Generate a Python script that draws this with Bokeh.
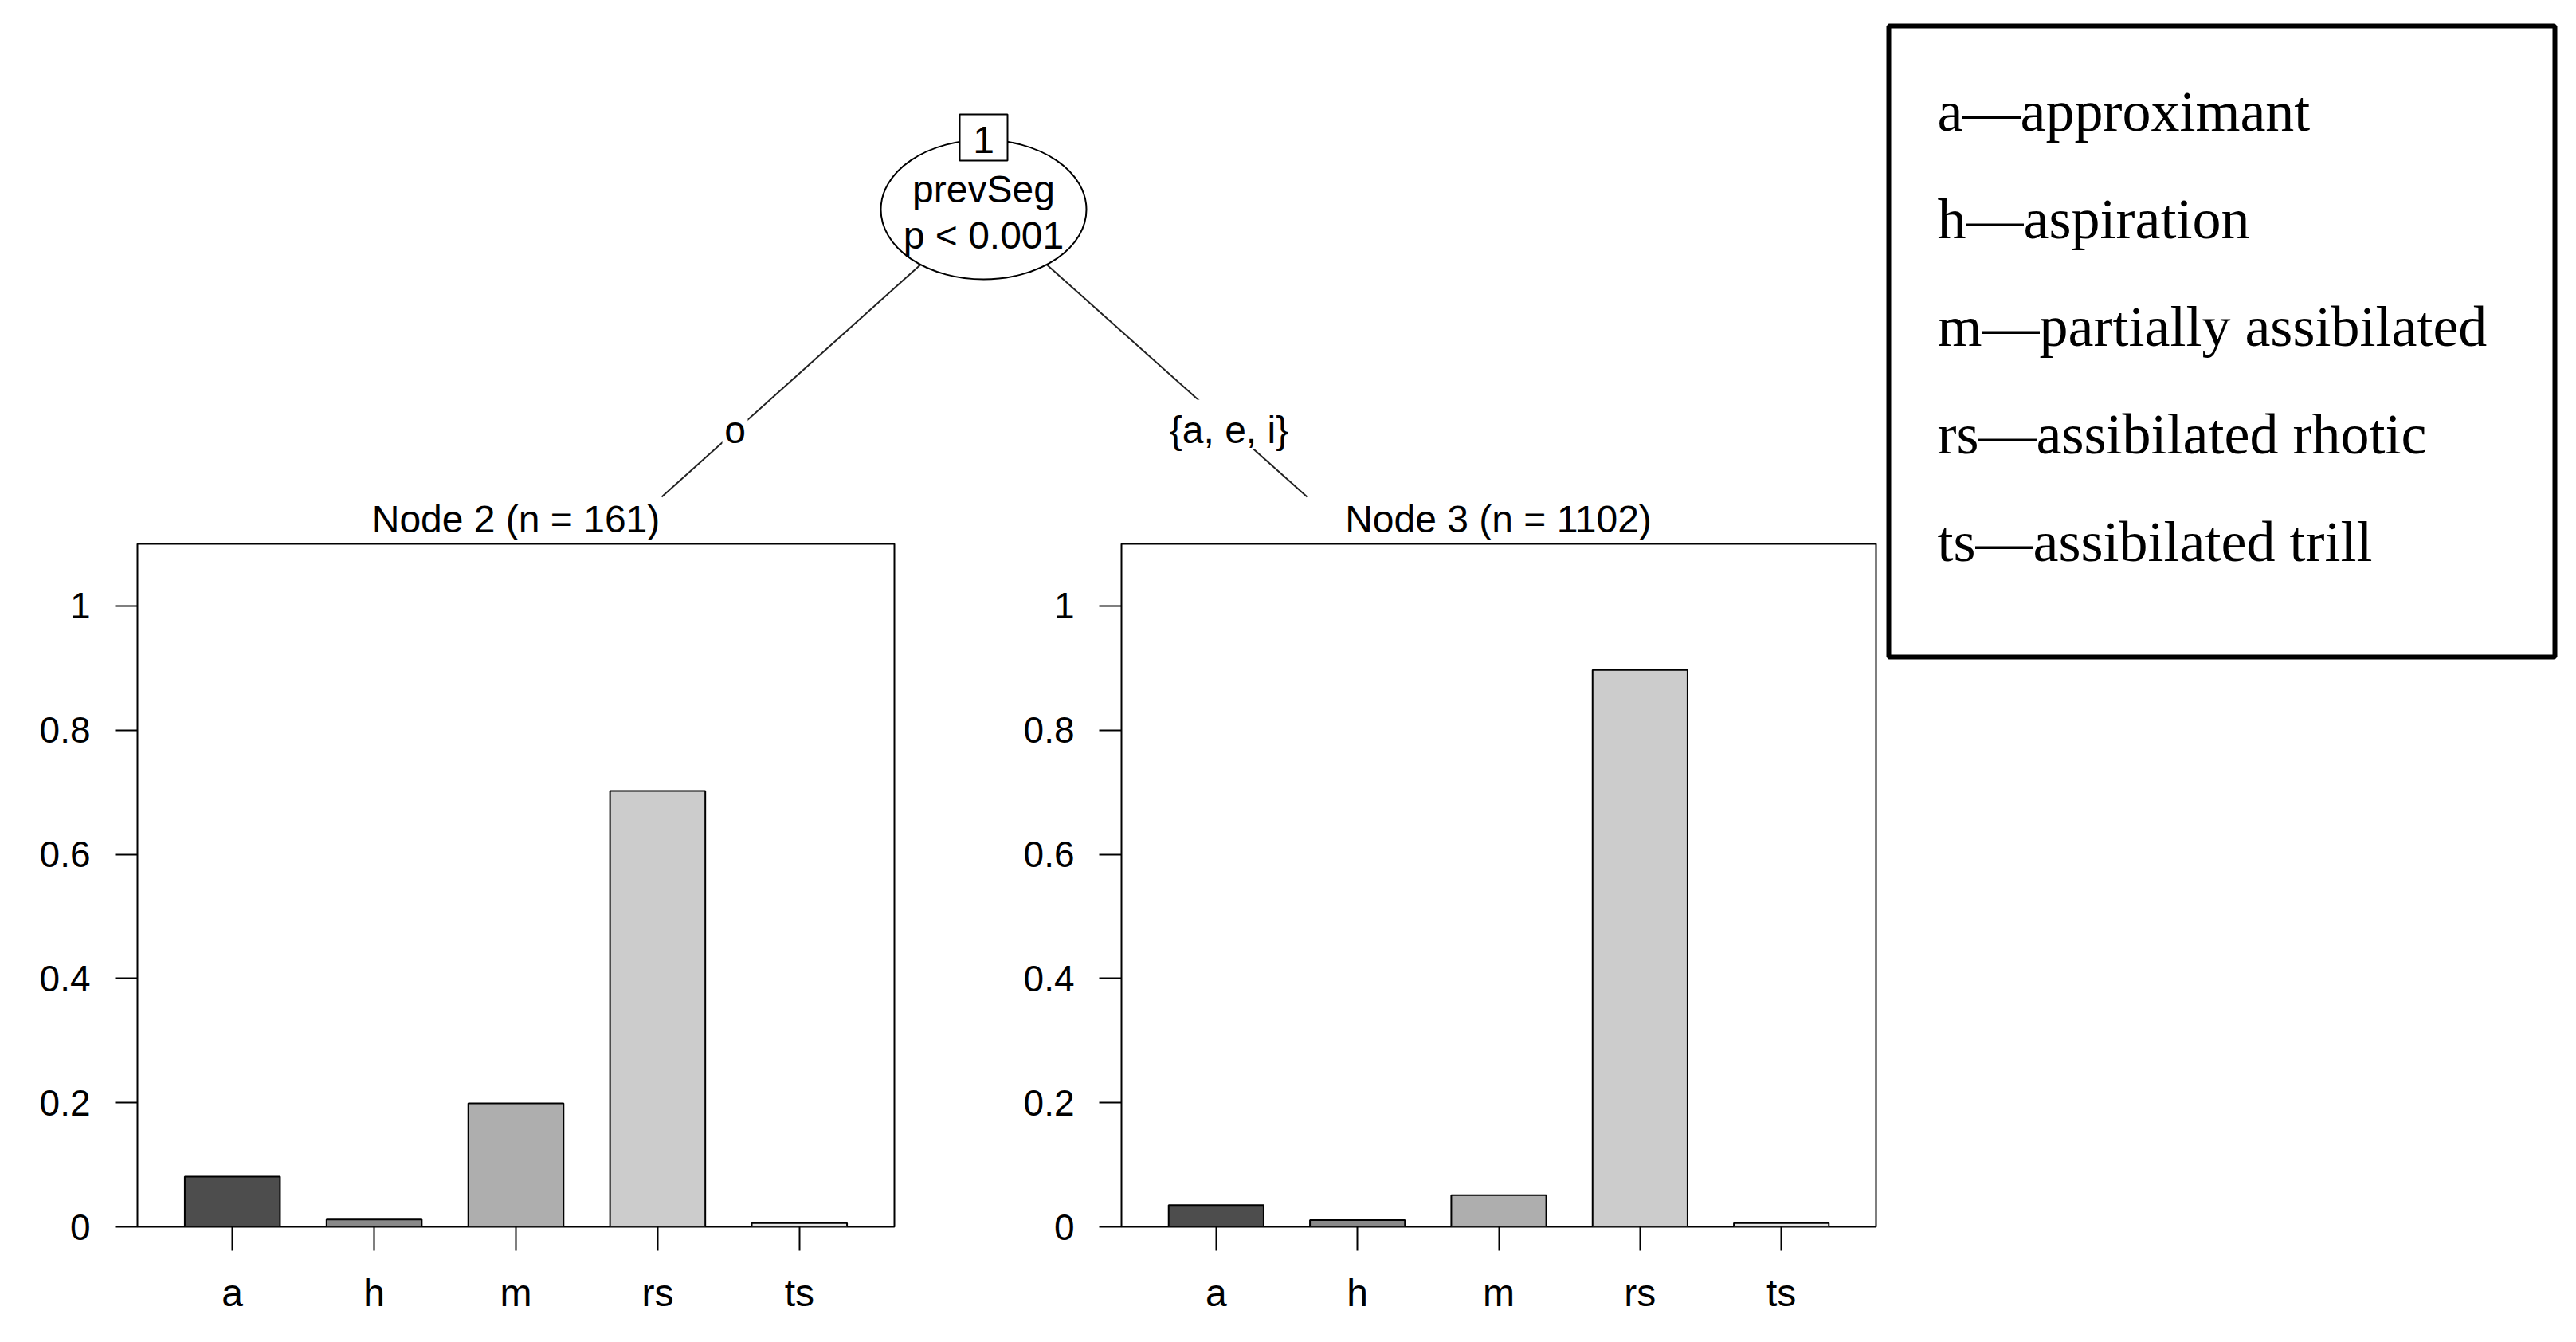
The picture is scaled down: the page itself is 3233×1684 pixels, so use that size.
from bokeh.plotting import figure
from bokeh.models import Range1d, FactorRange, FixedTicker
from bokeh.layouts import row, column
from bokeh.core.properties import value
from bokeh.embed import file_html
from bokeh.resources import INLINE

# ---------------- data ----------------
categories = ["a", "h", "m", "rs", "ts"]
node2_props = [0.081, 0.012, 0.199, 0.702, 0.006]
node3_props = [0.035, 0.011, 0.051, 0.897, 0.006]
bar_colors = ["#4D4D4D", "#898989", "#AEAEAE", "#CCCCCC", "#E6E6E6"]
y_ticks = [0, 0.2, 0.4, 0.6, 0.8, 1]
y_tick_labels = ["0", "0.2", "0.4", "0.6", "0.8", "1"]
node_titles = ["Node 2 (n = 161)", "Node 3 (n = 1102)"]
root_id = "1"
root_var = "prevSeg"
root_p = "p < 0.001"
edge_labels = ["o", "{a, e, i}"]
legend_lines = [
    "a\u2014approximant",
    "h\u2014aspiration",
    "m\u2014partially assibilated",
    "rs\u2014assibilated rhotic",
    "ts\u2014assibilated trill",
]

SANS = "Liberation Sans"
SERIF = "Liberation Serif"
FS = "48px"
TXT_DY = 18  # empirical shift for alphabetic baseline placement

# ---------------- tree (top) ----------------
TREE_W, TREE_H = 2360, 681
tree = figure(width=TREE_W, height=TREE_H, x_range=Range1d(0, TREE_W), y_range=Range1d(TREE_H, 0),
              output_backend="svg", toolbar_location=None, title_location=None,
              x_axis_type=None, y_axis_type=None, min_border=0)
tree.outline_line_color = None
tree.grid.visible = False

# edges
tree.segment(x0=[1170, 1298], y0=[318, 318], x1=[830, 1640], y1=[623, 623],
             line_color="#222222", line_width=2)
# white boxes behind edge labels
tree.rect(x=[922, 1542], y=[532, 532], width=[32, 150], height=[62, 62],
          fill_color="white", line_color=None)
tree.text(x=[922, 1542], y=[557 - TXT_DY] * 2, text=edge_labels, text_align="center",
          text_baseline="alphabetic", text_font=value(SANS), text_font_size=FS,
          text_color="black")
# root node ellipse
tree.ellipse(x=1234, y=262.5, width=258, height=175, fill_color="white",
             line_color="black", line_width=2)
tree.text(x=[1234, 1234], y=[255 - TXT_DY, 313 - TXT_DY], text=[root_var, root_p],
          text_align="center", text_baseline="alphabetic", text_font=value(SANS),
          text_font_size=FS, text_color="black")
# node id box
tree.rect(x=1234, y=172, width=60, height=58, fill_color="white",
          line_color="black", line_width=2)
tree.text(x=[1234], y=[193 - TXT_DY], text=[root_id], text_align="center",
          text_baseline="alphabetic", text_font=value(SANS), text_font_size=FS,
          text_color="black")
# terminal node titles
tree.text(x=[647, 1880], y=[669 - TXT_DY] * 2, text=node_titles, text_align="center",
          text_baseline="alphabetic", text_font=value(SANS), text_font_size=FS,
          text_color="black")


# ---------------- bar panels ----------------
def make_panel(props, width, left, right):
    p = figure(width=width, height=999,
               x_range=FactorRange(factors=categories, range_padding=0.17,
                                   range_padding_units="absolute"),
               y_range=Range1d(0, 1.1),
               output_backend="svg", toolbar_location=None, title_location=None,
               min_border_left=left, min_border_right=right,
               min_border_top=1, min_border_bottom=141)
    p.grid.visible = False
    p.outline_line_color = "black"
    p.outline_line_width = 2
    p.background_fill_color = "white"
    p.border_fill_color = "white"
    p.vbar(x=categories, top=props, bottom=0, width=0.672, fill_color=bar_colors,
           line_color="black", line_width=2)

    ya = p.yaxis[0]
    ya.ticker = FixedTicker(ticks=y_ticks)
    ya.major_label_overrides = {t: l for t, l in zip(y_ticks, y_tick_labels)}
    ya.minor_tick_line_color = None
    ya.major_tick_out = 28
    ya.major_tick_in = 0
    ya.major_tick_line_width = 2
    ya.major_tick_line_color = "black"
    ya.axis_line_color = None
    ya.major_label_standoff = 31
    ya.major_label_text_font = SANS
    ya.major_label_text_font_size = "46px"
    ya.major_label_text_color = "black"

    xa = p.xaxis[0]
    xa.major_tick_out = 30
    xa.major_tick_in = 0
    xa.major_tick_line_width = 2
    xa.major_tick_line_color = "black"
    xa.axis_line_color = None
    xa.major_label_standoff = 26
    xa.major_label_text_font = SANS
    xa.major_label_text_font_size = FS
    xa.major_label_text_color = "black"
    return p


p1 = make_panel(node2_props, 1265, 172, 143)
p2 = make_panel(node3_props, 1095, 142, 6)

# ---------------- legend (right) ----------------
LEG_X0, LEG_W, LEG_H = 2360, 868, 1680
leg = figure(width=LEG_W, height=LEG_H, x_range=Range1d(LEG_X0, LEG_X0 + LEG_W),
             y_range=Range1d(LEG_H, 0),
             output_backend="svg", toolbar_location=None, title_location=None,
             x_axis_type=None, y_axis_type=None, min_border=0)
leg.outline_line_color = None
leg.grid.visible = False
leg.quad(left=2370, right=3206, top=32, bottom=824, fill_color=None,
         line_color="black", line_width=6)
leg.text(x=[2431] * len(legend_lines),
         y=[b - TXT_DY for b in [157, 292, 427, 562, 697]], text=legend_lines,
         text_align="left", text_baseline="alphabetic", text_font=value(SERIF),
         text_font_size="72px", text_color="black")

layout = row(column(tree, row(p1, p2)), leg)

open("out.html", "w").write(file_html(layout, INLINE))
